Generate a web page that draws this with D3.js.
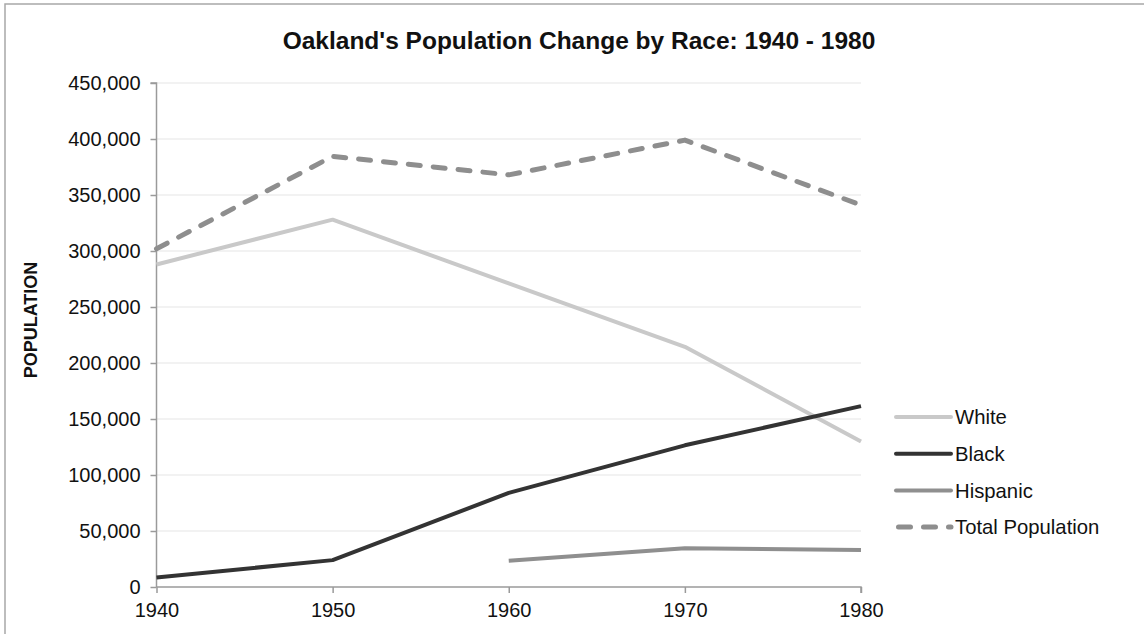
<!doctype html>
<html>
  <head>
    <script src="https://d3js.org/d3.v7.min.js" charset="utf-8"></script>
    <style>
      body { margin: 0; background: #fff; }
      text { font-family: "Liberation Sans", Arial, Helvetica, sans-serif; fill: #111; }
    </style>
  </head>

  <body>
    <script>

// data
var years = [1940, 1950, 1960, 1970, 1980];
var white = [288000, 328000, 271000, 214500, 130000];
var black = [8500, 24000, 84000, 126500, 161500];
var hispanic = [null, null, 23500, 34500, 33000];
var total = [302000, 384500, 368000, 399000, 341000];
var yTicks = [0, 50000, 100000, 150000, 200000, 250000, 300000, 350000, 400000, 450000];

var series = [
  { name: "White", values: white, color: "#c9c9c9", width: 4, dash: null },
  { name: "Black", values: black, color: "#333333", width: 4, dash: null },
  { name: "Hispanic", values: hispanic, color: "#8f8f8f", width: 4, dash: null },
  { name: "Total Population", values: total, color: "#8e8e8e", width: 5, dash: "12,13" }
];

var W = 1144, H = 634;
var svg = d3.select("body")
  .append("svg")
    .attr("width", W)
    .attr("height", H);

// frame of the original chart (only top and left edges are in view)
svg.append("rect")
  .attr("x", 5).attr("y", 4)
  .attr("width", W + 20).attr("height", H + 20)
  .attr("fill", "none")
  .attr("stroke", "#a8a8a8")
  .attr("stroke-width", 1.5);

var x = d3.scaleLinear().domain([1940, 1980]).range([156.5, 861]);
var y = d3.scaleLinear().domain([0, 450000]).range([587, 83]);

// horizontal gridlines
svg.append("g")
  .selectAll("line")
  .data(yTicks.slice(1))
  .enter()
  .append("line")
    .attr("x1", x(1940)).attr("x2", x(1980))
    .attr("y1", function(d) { return y(d); })
    .attr("y2", function(d) { return y(d); })
    .attr("stroke", "#eeeeee")
    .attr("stroke-width", 1.5);

// axes
var yAxis = d3.axisLeft(y)
  .tickValues(yTicks)
  .tickSize(6)
  .tickPadding(10)
  .tickFormat(d3.format(","));

var xAxis = d3.axisBottom(x)
  .tickValues(years)
  .tickSize(6)
  .tickPadding(10)
  .tickFormat(d3.format("d"));

var gy = svg.append("g")
  .attr("transform", "translate(" + x(1940) + ",0)")
  .call(yAxis);

var gx = svg.append("g")
  .attr("transform", "translate(0," + y(0) + ")")
  .call(xAxis);

[gx, gy].forEach(function(g) {
  g.selectAll("path, line").attr("stroke", "#9a9a9a").attr("stroke-width", 1.5);
  g.selectAll("text")
    .style("font-family", "'Liberation Sans', Arial, sans-serif")
    .style("font-size", "20px")
    .attr("fill", "#111");
});
gy.select(".domain").attr("d", "M-6," + y(450000) + "H0V" + y(0));
gx.select(".domain").attr("d", "M" + x(1940) + ",0H" + x(1980) + "V6");

// lines
var line = d3.line()
  .defined(function(d) { return d.v !== null; })
  .x(function(d) { return x(d.year); })
  .y(function(d) { return y(d.v); });

svg.append("g")
  .selectAll("path")
  .data(series)
  .enter()
  .append("path")
    .attr("d", function(s) {
      return line(s.values.map(function(v, i) { return { year: years[i], v: v }; }));
    })
    .attr("fill", "none")
    .attr("stroke", function(s) { return s.color; })
    .attr("stroke-width", function(s) { return s.width; })
    .attr("stroke-dasharray", function(s) { return s.dash; })
    .attr("stroke-linecap", function(s) { return s.dash ? "round" : "butt"; })
    .attr("stroke-linejoin", "round");

// title
svg.append("text")
  .attr("x", 579).attr("y", 49)
  .attr("text-anchor", "middle")
  .style("font-size", "24.5px")
  .style("font-weight", "bold")
  .text("Oakland's Population Change by Race: 1940 - 1980");

// y axis title
svg.append("text")
  .attr("transform", "translate(37,320) rotate(-90)")
  .attr("text-anchor", "middle")
  .style("font-size", "18px")
  .style("font-weight", "bold")
  .text("POPULATION");

// legend
var legend = svg.append("g")
  .selectAll("g")
  .data(series)
  .enter()
  .append("g")
    .attr("transform", function(d, i) { return "translate(896," + (417 + i * 36.7) + ")"; });

legend.append("line")
  .attr("x1", function(d) { return d.dash ? 2.5 : 0; })
  .attr("x2", 55)
  .attr("stroke", function(d) { return d.color; })
  .attr("stroke-width", function(d) { return d.width; })
  .attr("stroke-dasharray", function(d) { return d.dash; })
  .attr("stroke-linecap", "round");

legend.append("text")
  .attr("x", 59)
  .attr("dy", "0.35em")
  .style("font-size", "20.3px")
  .text(function(d) { return d.name; });

    </script>
  </body>

</html>
